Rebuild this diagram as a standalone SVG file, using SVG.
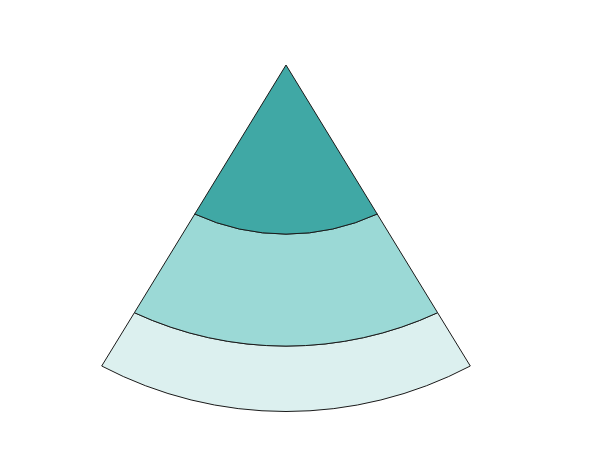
<svg xmlns="http://www.w3.org/2000/svg" width="594" height="474" viewBox="0 0 594 474">
<style>
.band{stroke:#1a1a1a;stroke-width:1;stroke-linejoin:miter}
</style>
<rect width="594" height="474" fill="#ffffff"/>
<g id="band-bottom">
<path class="band" fill="#dcf0ef" d="M134.4,312.7 L101.7,366 A396,396 0 0 0 470.3,366 L437.6,312.7 A361,361 0 0 1 134.4,312.7 Z"/>
</g>
<g id="band-middle">
<path class="band" fill="#9bd9d6" d="M194.8,214 L134.4,312.7 A361,361 0 0 0 437.6,312.7 L377.2,214 A217,217 0 0 1 194.8,214 Z"/>
</g>
<g id="band-top">
<path class="band" fill="#40a8a5" d="M286,65 L194.8,214 A217,217 0 0 0 377.2,214 Z"/>
</g>
<g id="connectors"></g>
</svg>
